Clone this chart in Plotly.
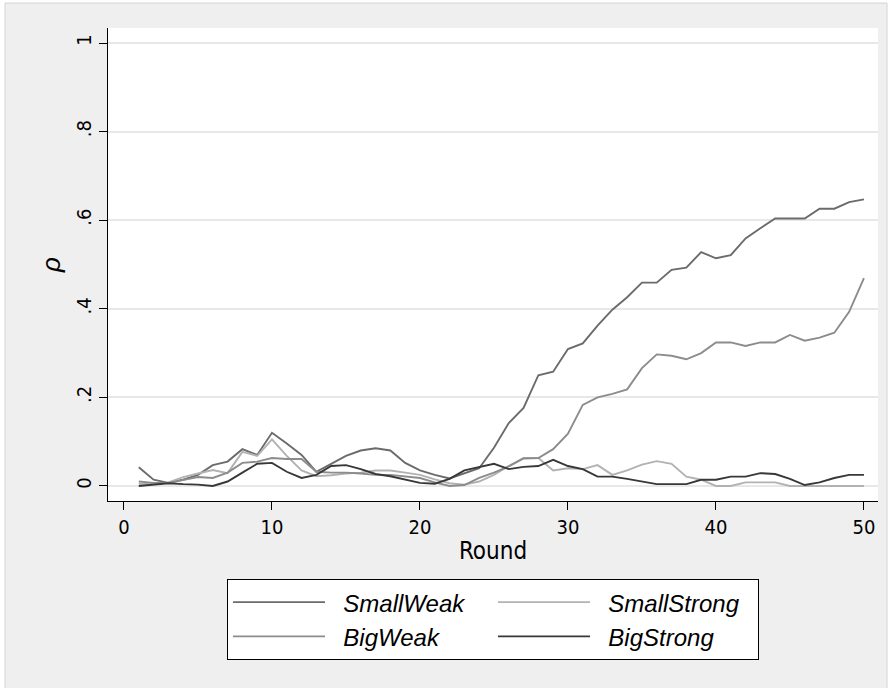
import plotly.graph_objects as go

rounds = list(range(1, 51))

small_weak = [0.042, 0.014, 0.007, 0.014, 0.025, 0.047, 0.055, 0.083, 0.070, 0.120,
              0.096, 0.070, 0.032, 0.050, 0.068, 0.080, 0.085, 0.080, 0.052, 0.035,
              0.025, 0.017, 0.028, 0.040, 0.086, 0.142, 0.176, 0.250, 0.258, 0.309,
              0.322, 0.362, 0.398, 0.426, 0.459, 0.459, 0.488, 0.493, 0.528, 0.514,
              0.521, 0.559, 0.582, 0.604, 0.604, 0.604, 0.626, 0.626, 0.641, 0.647]

big_weak = [0.010, 0.007, 0.007, 0.014, 0.020, 0.018, 0.030, 0.052, 0.055, 0.063,
            0.061, 0.061, 0.032, 0.030, 0.030, 0.028, 0.025, 0.025, 0.022, 0.018,
            0.008, 0.000, 0.002, 0.018, 0.030, 0.044, 0.062, 0.063, 0.083, 0.118,
            0.183, 0.200, 0.208, 0.218, 0.266, 0.297, 0.294, 0.286, 0.300, 0.324,
            0.324, 0.316, 0.324, 0.324, 0.341, 0.328, 0.335, 0.346, 0.393, 0.469]

small_strong = [0.005, 0.004, 0.008, 0.020, 0.028, 0.036, 0.029, 0.077, 0.068, 0.105,
                0.068, 0.035, 0.022, 0.024, 0.028, 0.030, 0.035, 0.035, 0.030, 0.025,
                0.015, 0.006, 0.003, 0.010, 0.025, 0.045, 0.063, 0.063, 0.035, 0.040,
                0.038, 0.047, 0.025, 0.035, 0.048, 0.056, 0.050, 0.021, 0.014, 0.000,
                0.000, 0.008, 0.008, 0.008, 0.000, 0.000, 0.000, 0.000, 0.000, 0.000]

big_strong = [0.000, 0.003, 0.006, 0.004, 0.003, 0.000, 0.010, 0.030, 0.050, 0.052,
              0.032, 0.018, 0.025, 0.045, 0.047, 0.038, 0.027, 0.022, 0.015, 0.007,
              0.005, 0.016, 0.035, 0.043, 0.050, 0.038, 0.043, 0.045, 0.059, 0.045,
              0.038, 0.021, 0.021, 0.016, 0.010, 0.004, 0.004, 0.004, 0.014, 0.014,
              0.021, 0.021, 0.029, 0.027, 0.016, 0.002, 0.008, 0.018, 0.025, 0.025]

x_ticks = [0, 10, 20, 30, 40, 50]
y_ticks = [0, 0.2, 0.4, 0.6, 0.8, 1.0]
y_tick_text = ["0", ".2", ".4", ".6", ".8", "1"]

series = [
    ("SmallWeak", small_weak, "#6b6b6b"),
    ("SmallStrong", small_strong, "#b2b2b2"),
    ("BigWeak", big_weak, "#8c8c8c"),
    ("BigStrong", big_strong, "#383838"),
]

FONT = "Liberation Sans, Arial, Helvetica, sans-serif"
NARROW = "Liberation Sans Narrow, Arial Narrow, DejaVu Sans Condensed, sans-serif"

fig = go.Figure()
for name, vals, col in series:
    fig.add_trace(go.Scatter(x=rounds, y=vals, mode="lines",
                             name="\u00a0\u00a0" + name,
                             line=dict(color=col, width=1.9)))

fig.update_layout(
    width=892, height=688,
    margin=dict(l=108, r=14, t=28, b=187),
    paper_bgcolor="white",
    plot_bgcolor="white",
    font=dict(family=NARROW, size=20, color="black"),
    showlegend=True,
    legend=dict(
        orientation="h",
        x=0.5, xanchor="center",
        y=-0.165, yanchor="top",
        bgcolor="white",
        bordercolor="black", borderwidth=1,
        font=dict(family=FONT, size=24, style="italic"),
        entrywidth=158, entrywidthmode="pixels",
        itemwidth=92,
        traceorder="normal",
    ),
    shapes=[
        dict(type="rect", xref="paper", yref="paper",
             x0=(5 - 108) / 770, x1=(887 - 108) / 770,
             y0=(501 - 690) / 473, y1=(501 - 3) / 473,
             fillcolor="#efefef", line=dict(color="#d4d4d4", width=1),
             layer="below"),
        dict(type="rect", xref="paper", yref="paper",
             x0=0, x1=1, y0=0, y1=1,
             fillcolor="white", line=dict(width=0),
             layer="below"),
    ],
)

fig.update_xaxes(
    range=[-1.08, 50.95],
    tickvals=x_ticks,
    ticks="outside", ticklen=8, tickwidth=1, tickcolor="black",
    showline=True, linecolor="black", linewidth=1,
    showgrid=False, zeroline=False,
    title=dict(text="Round", standoff=4),
)
fig.update_yaxes(
    range=[-0.034, 1.034],
    tickvals=y_ticks, ticktext=y_tick_text,
    tickangle=-90,
    ticks="outside", ticklen=8, tickwidth=1, tickcolor="black",
    showline=True, linecolor="black", linewidth=1,
    showgrid=True, gridcolor="#e8e8e8", gridwidth=2,
    zeroline=False,
    title=dict(text="<i>ρ</i>", standoff=3, font=dict(family=FONT, size=26)),
)

fig.write_html("out.html")
